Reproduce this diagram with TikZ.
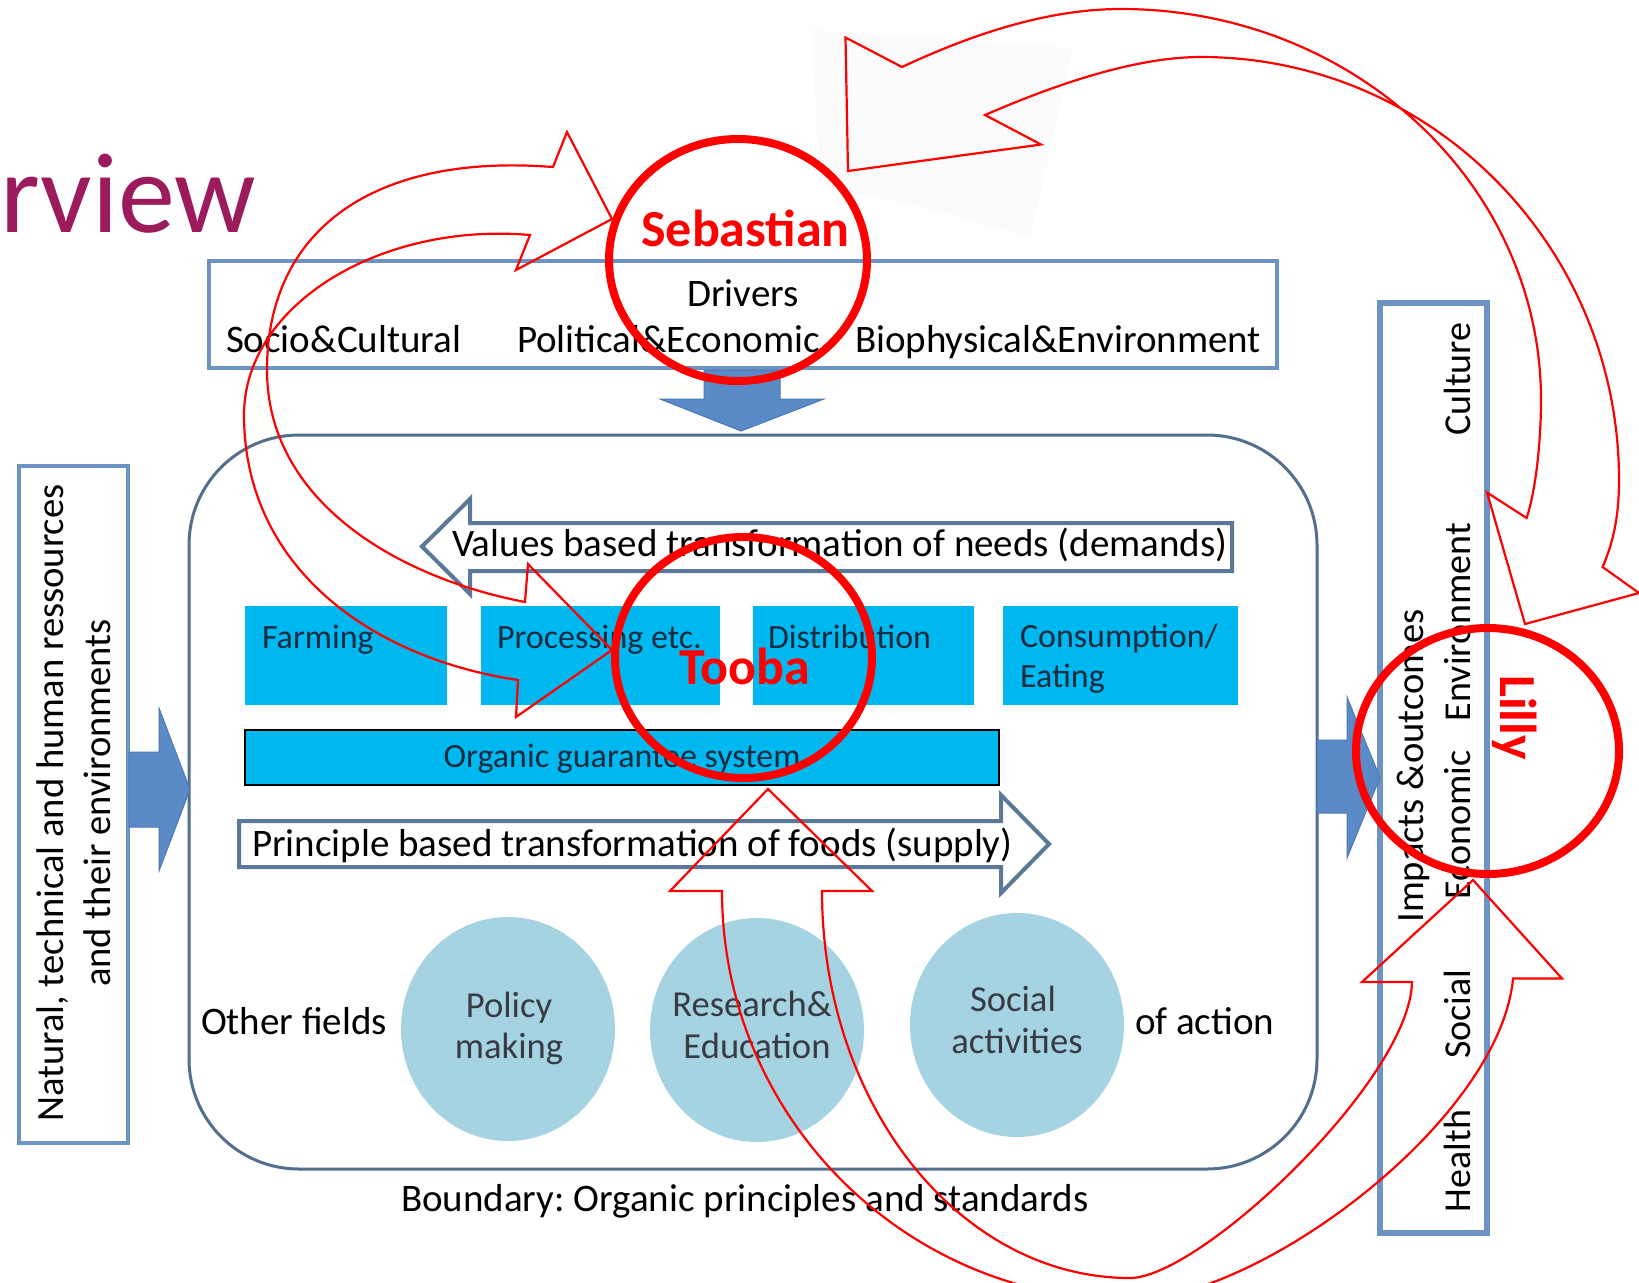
\documentclass[tikz,border=0pt]{standalone}
\usepackage{fontspec}
\setmainfont{Carlito}
\usetikzlibrary{calc}
\definecolor{cPurple}{HTML}{9B1B5C}
\definecolor{cBoxEdge}{HTML}{6C93C3}
\definecolor{cSlate}{HTML}{546F8E}
\definecolor{cArrFill}{HTML}{5B8BC7}
\definecolor{cArrEdge}{HTML}{4A78B0}
\definecolor{cTrans}{HTML}{5B7899}
\definecolor{cCyan}{HTML}{00B8F0}
\definecolor{cCircle}{HTML}{A6D3E2}
\definecolor{cBoxText}{HTML}{1A2B40}
\definecolor{cCircText}{HTML}{383B44}
\newcommand\fsz[1]{\fontsize{#1}{#1}\selectfont}
\frenchspacing
\begin{document}
\begin{tikzpicture}[x=0.5pt,y=-0.5pt,
  every node/.style={inner sep=0pt,outer sep=0pt},
  lbl/.style={font={\fsz{19.5}}, text=black},
  boxlbl/.style={font={\fsz{17}}, text=cBoxText, anchor=base west},
  circlbl/.style={font={\fsz{18.3}}, text=cCircText, anchor=base},
  sidelbl/.style={font={\fsz{19}}, rotate=90, anchor=base},
  redname/.style={font={\fsz{26}\bfseries}, text=red, anchor=base},
  redring/.style={draw=red, line width=4pt},
  redarr/.style={draw=red, line width=1.1pt, line join=miter},
  blockarr/.style={fill=cArrFill, draw=cArrEdge, line width=0.5pt},
  transarr/.style={draw=cTrans, fill=white, line width=2pt, line join=miter},
  framebox/.style={draw=cBoxEdge, fill=white, line width=2pt}
]
\useasboundingbox (0,0) rectangle (1639,1282);
\fill[white] (0,0) rectangle (1639,1282);
\clip (0,0) rectangle (1639,1282);

% title fragment
\node[font={\fsz{57}}, text=cPurple, anchor=base west] (title) at (0,232) {rview};

% faint backdrop behind upper arrow head
\fill[black!1.5] (811,30) -- (1073,48) -- (1030,238) -- (930,209) -- (820,185) -- cycle;

% drivers box
\draw[framebox] (209,261) rectangle (1277,368);
\node[lbl, anchor=base] (drv) at (743,306) {Drivers};
\node[lbl, anchor=base west] (socio) at (226,352) {Socio\&Cultural};
\node[lbl, anchor=base west] (polit) at (517,352) {Political\&Economic};
\node[lbl, anchor=base west] (bio) at (855,352) {Biophysical\&Environment};

% down arrow
\draw[blockarr] (704,370) -- (780,370) -- (780,399) -- (824,399) -- (741,431) -- (660,399) -- (704,399) -- cycle;

% big rounded frame
\draw[cSlate, line width=1.5pt, rounded corners=55pt] (189,435) rectangle (1317,1169);

% left resources box
\draw[framebox] (19,466) rectangle (128,1143);
\node[sidelbl, font={\fsz{19.3}}] (nat1) at (63,803) {Natural, technical and human ressources};
\node[sidelbl, font={\fsz{19.3}}] (nat2) at (110,803) {and their environments};

% left arrow
\draw[blockarr] (129,752) -- (159,752) -- (159,708) -- (190,789.5) -- (159,871) -- (159,827) -- (129,827) -- cycle;

% values arrow
\draw[transarr] (422,546.5) -- (470,499) -- (470,523) -- (1232,523) -- (1232,571) -- (470,571) -- (470,594) -- cycle;
\node[lbl, anchor=base west] (values) at (452,556) {Values based transformation of needs (demands)};

% principle arrow
\draw[transarr] (239,821) -- (1001,821) -- (1001,795) -- (1049,844) -- (1001,893) -- (1001,867) -- (239,867) -- cycle;
\node[lbl, anchor=base west] (principle) at (252,856) {Principle based transformation of foods (supply)};

% cyan boxes
\fill[cCyan] (245,606) rectangle (447,705);
\fill[cCyan] (481,606) rectangle (720,705);
\fill[cCyan] (753,606) rectangle (974,705);
\fill[cCyan] (1003,606) rectangle (1238,705);
\node[boxlbl] (farm) at (262,648) {Farming};
\node[boxlbl] (proc) at (497,648) {Processing etc.};
\node[boxlbl] (dist) at (768,648) {Distribution};
\node[boxlbl] (cons) at (1020,647) {Consumption/};
\node[boxlbl] (eat) at (1020,687) {Eating};

% organic guarantee bar
\draw[fill=cCyan, draw=black, line width=1pt] (245,730) rectangle (999,785);
\node[boxlbl, anchor=base] (ogs) at (622,767) {Organic guarantee system};

% bubbles
\fill[cCircle] (508,1029) ellipse [x radius=53.5pt, y radius=56pt];
\fill[cCircle] (757,1030) ellipse [x radius=53.5pt, y radius=56pt];
\fill[cCircle] (1017,1025) ellipse [x radius=53.5pt, y radius=56pt];
\node[circlbl] (pol1) at (509,1017) {Policy};
\node[circlbl] (pol2) at (509,1058) {making};
\node[circlbl] (res1) at (752,1016) {Research\&};
\node[circlbl] (res2) at (757,1058) {Education};
\node[circlbl] (soc1) at (1013,1011) {Social};
\node[circlbl] (soc2) at (1017,1053) {activities};

% other labels
\node[lbl, anchor=base west] (other) at (201,1034) {Other fields};
\node[lbl, anchor=base west] (ofact) at (1135,1034) {of action};
\node[lbl, anchor=base west] (bound) at (401,1211) {Boundary: Organic principles and standards};

% right impacts box
\draw[draw=cBoxEdge, fill=white, line width=3pt] (1380,303) rectangle (1487,1233);
\node[sidelbl] (cult) at (1470,379) {Culture};
\node[sidelbl] (envi) at (1470,622) {Environment};
\node[sidelbl] (econ) at (1470,825) {Economic};
\node[sidelbl] (socl) at (1470,1014) {Social};
\node[sidelbl] (hlth) at (1470,1161) {Health};
\node[sidelbl, font={\fsz{19.3}}] (impc) at (1423,766) {Impacts \&outcomes};

% right arrow
\draw[blockarr] (1317,740) -- (1347,740) -- (1347,697) -- (1380,777.5) -- (1347,858) -- (1347,813) -- (1317,813) -- cycle;

% red rings
\draw[redring] (738,260) ellipse [x radius=64.5pt, y radius=60.5pt];
\draw[redring] (743.5,657.5) ellipse [x radius=64.25pt, y radius=60.25pt];
\draw[redring] (1487.5,751) ellipse [x radius=65.75pt, y radius=61.5pt];
\node[redname] (seb) at (745.5,246) {Sebastian};
\node[redname] (toob) at (745,684.5) {Tooba};
\node[redname, rotate=-90] (lil) at (1500,717.5) {Lilly};

% left double arrow (Tooba <-> Sebastian)
\draw[redarr] (553,167) .. controls (373,153) and (267,230) .. (267,370)
  .. controls (267,500) and (395,577) .. (525,602)
  -- (528,564) -- (612,650) -- (516,717) -- (518,680)
  .. controls (368,657.5) and (244,565) .. (244,415)
  .. controls (244,305) and (380,222) .. (530,235)
  -- (516,270) -- (612,219) -- (567,132) -- cycle;

% right double arrow (top <-> Lilly)
\draw[redarr] (902,67) -- (845.5,37.5) -- (848,171) -- (1041,144.5) -- (985,115)
  .. controls (1045,89) and (1130,57) .. (1201,57)
  .. controls (1432,57) and (1619,247) .. (1619,480)
  .. controls (1619,520) and (1612,545) .. (1602.6,567)
  -- (1639,593) -- (1525,624) -- (1487,492.5) -- (1526.6,518)
  .. controls (1536,490) and (1541,440) .. (1541,400)
  .. controls (1541,184) and (1353,9) .. (1121,9)
  .. controls (1041,9) and (962,39) .. (902,67) -- cycle;

% bottom double arrow (Tooba <-> Lilly)
\draw[redarr] (722,891) -- (670,891) -- (768,789) -- (872,891) -- (822,891)
  .. controls (822,1105) and (960,1278) .. (1130,1278)
  .. controls (1200,1278) and (1410,1080) .. (1412,982)
  -- (1362,982) -- (1473,880) -- (1562,978.5) -- (1513,978.5)
  .. controls (1500,1120) and (1260,1300) .. (1130,1300)
  .. controls (905,1300) and (722,1117) .. (722,891) -- cycle;
\end{tikzpicture}
\end{document}
